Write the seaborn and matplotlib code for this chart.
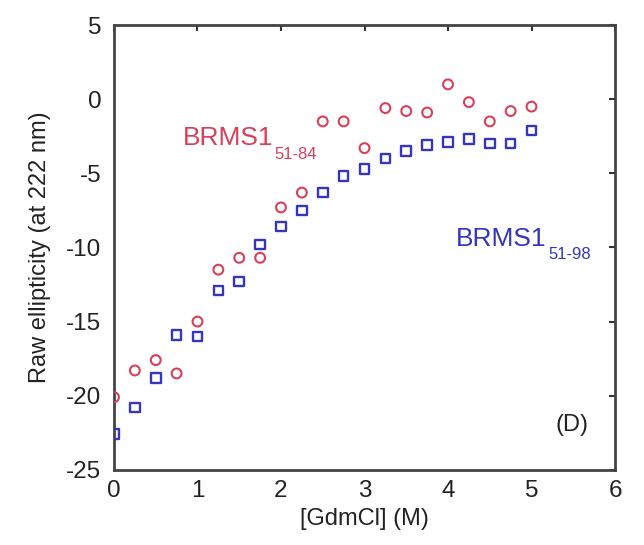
import matplotlib
matplotlib.use("Agg")
import matplotlib.pyplot as plt
import seaborn as sns
import pandas as pd

# Data
gdmcl = [0.0, 0.25, 0.5, 0.75, 1.0, 1.25, 1.5, 1.75, 2.0, 2.25, 2.5, 2.75,
         3.0, 3.25, 3.5, 3.75, 4.0, 4.25, 4.5, 4.75, 5.0]
brms1_51_84 = [-20.1, -18.3, -17.6, -18.5, -15.0, -11.5, -10.7, -10.7, -7.3, -6.3,
               -1.5, -1.5, -3.3, -0.6, -0.8, -0.9, 1.0, -0.2, -1.5, -0.8, -0.5]
brms1_51_98 = [-22.6, -20.8, -18.8, -15.9, -16.0, -12.9, -12.3, -9.8, -8.6, -7.5,
               -6.3, -5.2, -4.7, -4.0, -3.5, -3.1, -2.9, -2.7, -3.0, -3.0, -2.1]
x_ticks = [0, 1, 2, 3, 4, 5, 6]
y_ticks = [-25, -20, -15, -10, -5, 0, 5]

red = "#d8405a"
blue = "#3535c0"

df84 = pd.DataFrame({"x": gdmcl, "y": brms1_51_84})
df98 = pd.DataFrame({"x": gdmcl, "y": brms1_51_98})

sns.set_style("white")
plt.rcParams["font.family"] = ["Liberation Sans", "DejaVu Sans"]

fig = plt.figure(figsize=(6.44, 5.45), dpi=100)
ax = fig.add_axes([0.177, 0.138, 0.778, 0.816])

sns.scatterplot(data=df84, x="x", y="y", ax=ax, marker="o", s=50,
                facecolor="none", edgecolor=red, linewidth=1.5, zorder=3)
sns.scatterplot(data=df98, x="x", y="y", ax=ax, marker="s", s=48,
                facecolor="none", edgecolor=blue, linewidth=1.7, zorder=3)

ax.set_xlim(0, 6)
ax.set_ylim(-25, 5)
ax.set_xticks(x_ticks)
ax.set_yticks(y_ticks)
ax.set_xticklabels([str(t) for t in x_ticks])
ax.set_yticklabels([str(t) for t in y_ticks])
ax.tick_params(direction="in", length=4, width=1.5, colors="#333333",
               labelsize=17.5, top=True, right=True, labelcolor="#222222")
ax.tick_params(axis="y", pad=9)
ax.tick_params(axis="x", pad=7)
for sp in ax.spines.values():
    sp.set_color("#444444")
    sp.set_linewidth(2)

ax.set_xlabel("[GdmCl] (M)", fontsize=17, color="#222222", labelpad=5)
ax.set_ylabel("Raw ellipticity (at 222 nm)", fontsize=17, color="#222222", labelpad=11)

ax.text(0.82, -2.6, "BRMS1", color=red, fontsize=19, va="center", ha="left")
ax.text(1.92, -3.75, "51-84", color=red, fontsize=12, va="center", ha="left")
ax.text(4.1, -9.4, "BRMS1", color=blue, fontsize=19, va="center", ha="left")
ax.text(5.2, -10.5, "51-98", color=blue, fontsize=12, va="center", ha="left")
ax.text(5.48, -22.0, "(D)", color="#222222", fontsize=17, va="center", ha="center")

fig.savefig("out.png", dpi=100)
